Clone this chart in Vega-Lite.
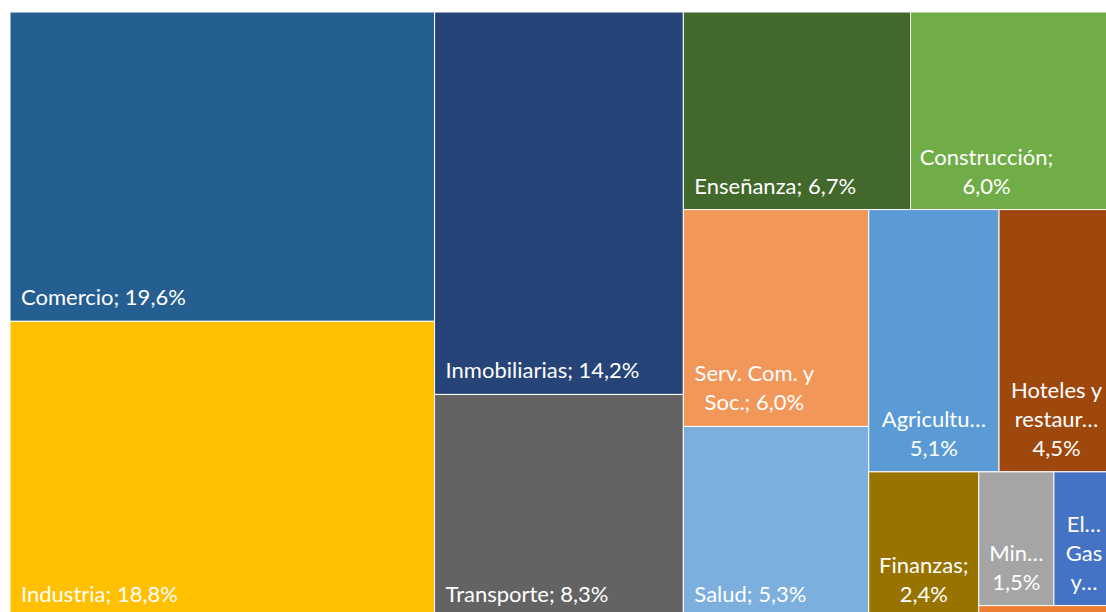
{
  "$schema": "https://vega.github.io/schema/vega-lite/v6.json",
  "width": 1096,
  "height": 600,
  "autosize": {"type": "none"},
  "padding": {"left": 10, "top": 12, "right": 0, "bottom": 0},
  "background": "white",
  "config": {"view": {"stroke": null}},
  "data": {
    "values": [
      {"sector": "Comercio", "value": 19.6, "ord": 1, "path": "R/A/Comercio", "label": "Comercio; 19,6%"},
      {"sector": "Industria", "value": 18.8, "ord": 2, "path": "R/A/Industria", "label": "Industria; 18,8%"},
      {"sector": "Inmobiliarias", "value": 14.2, "ord": 3, "path": "R/B/Inmobiliarias", "label": "Inmobiliarias; 14,2%"},
      {"sector": "Transporte", "value": 8.3, "ord": 4, "path": "R/B/Transporte", "label": "Transporte; 8,3%"},
      {"sector": "Enseñanza", "value": 6.7, "ord": 5, "path": "R/C/C1/Enseñanza", "label": "Enseñanza; 6,7%"},
      {"sector": "Construcción", "value": 6.0, "ord": 6, "path": "R/C/C1/Construcción", "label": "Construcción;\n6,0%"},
      {"sector": "Serv. Com. y Soc.", "value": 6.0, "ord": 7, "path": "R/C/C2/C2a/Serv. Com. y Soc.", "label": "Serv. Com. y\nSoc.; 6,0%"},
      {"sector": "Salud", "value": 5.3, "ord": 8, "path": "R/C/C2/C2a/Salud", "label": "Salud; 5,3%"},
      {"sector": "Agricultura", "value": 5.1, "ord": 9, "path": "R/C/C2/C2b/C2b1/Agricultura", "label": "Agricultu…\n5,1%"},
      {"sector": "Hoteles y restaurantes", "value": 4.5, "ord": 10, "path": "R/C/C2/C2b/C2b1/Hoteles y restaurantes", "label": "Hoteles y\nrestaur…\n4,5%"},
      {"sector": "Finanzas", "value": 2.4, "ord": 11, "path": "R/C/C2/C2b/C2b2/Finanzas", "label": "Finanzas;\n2,4%"},
      {"sector": "Minería", "value": 1.5, "ord": 12, "path": "R/C/C2/C2b/C2b2/E/E1/Minería", "label": "Min…\n1,5%"},
      {"sector": "Electricidad, Gas y Agua", "value": 1.2, "ord": 13, "path": "R/C/C2/C2b/C2b2/E/E1/Electricidad, Gas y Agua", "label": "El…\nGas\ny…"},
      {"sector": "Pesca", "value": 0.25, "ord": 14, "path": "R/C/C2/C2b/C2b2/E/Pesca", "label": ""}
    ]
  },
  "transform": [
    {"calculate": "split(datum.path, '/')", "as": "parts"},
    {"calculate": "split(datum.label, '\\n')", "as": "lines"},
    {"calculate": "length(datum.lines)", "as": "nlines"},
    {"calculate": "max(length(datum.lines[0]), length(datum.lines) > 1 ? length(datum.lines[1]) : 0, length(datum.lines) > 2 ? length(datum.lines[2]) : 0)", "as": "maxlen"},
    {"calculate": "datum.parts[0]", "as": "p0"},
    {"calculate": "datum.parts[min(1, length(datum.parts) - 1)]", "as": "p1"},
    {"calculate": "datum.parts[min(2, length(datum.parts) - 1)]", "as": "p2"},
    {"calculate": "datum.parts[min(3, length(datum.parts) - 1)]", "as": "p3"},
    {"calculate": "datum.parts[min(4, length(datum.parts) - 1)]", "as": "p4"},
    {"calculate": "datum.parts[min(5, length(datum.parts) - 1)]", "as": "p5"},
    {"calculate": "datum.parts[min(6, length(datum.parts) - 1)]", "as": "p6"},
    {"calculate": "datum.parts[min(7, length(datum.parts) - 1)]", "as": "p7"},

    {"joinaggregate": [{"op": "sum", "field": "value", "as": "s1"}], "groupby": ["p1"]},
    {"joinaggregate": [{"op": "sum", "field": "value", "as": "t1"}], "groupby": ["p0"]},
    {"window": [{"op": "sum", "field": "value", "as": "cp1"}], "groupby": ["p0"], "sort": [{"field": "ord", "order": "ascending"}], "frame": [null, 0]},
    {"window": [{"op": "sum", "field": "value", "as": "cn1"}], "groupby": ["p1"], "sort": [{"field": "ord", "order": "ascending"}], "frame": [null, 0]},

    {"joinaggregate": [{"op": "sum", "field": "value", "as": "s2"}], "groupby": ["p2"]},
    {"joinaggregate": [{"op": "sum", "field": "value", "as": "t2"}], "groupby": ["p1"]},
    {"window": [{"op": "sum", "field": "value", "as": "cp2"}], "groupby": ["p1"], "sort": [{"field": "ord", "order": "ascending"}], "frame": [null, 0]},
    {"window": [{"op": "sum", "field": "value", "as": "cn2"}], "groupby": ["p2"], "sort": [{"field": "ord", "order": "ascending"}], "frame": [null, 0]},

    {"joinaggregate": [{"op": "sum", "field": "value", "as": "s3"}], "groupby": ["p3"]},
    {"joinaggregate": [{"op": "sum", "field": "value", "as": "t3"}], "groupby": ["p2"]},
    {"window": [{"op": "sum", "field": "value", "as": "cp3"}], "groupby": ["p2"], "sort": [{"field": "ord", "order": "ascending"}], "frame": [null, 0]},
    {"window": [{"op": "sum", "field": "value", "as": "cn3"}], "groupby": ["p3"], "sort": [{"field": "ord", "order": "ascending"}], "frame": [null, 0]},

    {"joinaggregate": [{"op": "sum", "field": "value", "as": "s4"}], "groupby": ["p4"]},
    {"joinaggregate": [{"op": "sum", "field": "value", "as": "t4"}], "groupby": ["p3"]},
    {"window": [{"op": "sum", "field": "value", "as": "cp4"}], "groupby": ["p3"], "sort": [{"field": "ord", "order": "ascending"}], "frame": [null, 0]},
    {"window": [{"op": "sum", "field": "value", "as": "cn4"}], "groupby": ["p4"], "sort": [{"field": "ord", "order": "ascending"}], "frame": [null, 0]},

    {"joinaggregate": [{"op": "sum", "field": "value", "as": "s5"}], "groupby": ["p5"]},
    {"joinaggregate": [{"op": "sum", "field": "value", "as": "t5"}], "groupby": ["p4"]},
    {"window": [{"op": "sum", "field": "value", "as": "cp5"}], "groupby": ["p4"], "sort": [{"field": "ord", "order": "ascending"}], "frame": [null, 0]},
    {"window": [{"op": "sum", "field": "value", "as": "cn5"}], "groupby": ["p5"], "sort": [{"field": "ord", "order": "ascending"}], "frame": [null, 0]},

    {"joinaggregate": [{"op": "sum", "field": "value", "as": "s6"}], "groupby": ["p6"]},
    {"joinaggregate": [{"op": "sum", "field": "value", "as": "t6"}], "groupby": ["p5"]},
    {"window": [{"op": "sum", "field": "value", "as": "cp6"}], "groupby": ["p5"], "sort": [{"field": "ord", "order": "ascending"}], "frame": [null, 0]},
    {"window": [{"op": "sum", "field": "value", "as": "cn6"}], "groupby": ["p6"], "sort": [{"field": "ord", "order": "ascending"}], "frame": [null, 0]},

    {"joinaggregate": [{"op": "sum", "field": "value", "as": "s7"}], "groupby": ["p7"]},
    {"joinaggregate": [{"op": "sum", "field": "value", "as": "t7"}], "groupby": ["p6"]},
    {"window": [{"op": "sum", "field": "value", "as": "cp7"}], "groupby": ["p6"], "sort": [{"field": "ord", "order": "ascending"}], "frame": [null, 0]},
    {"window": [{"op": "sum", "field": "value", "as": "cn7"}], "groupby": ["p7"], "sort": [{"field": "ord", "order": "ascending"}], "frame": [null, 0]},

    {"calculate": "(datum.cp1 - datum.cn1) / datum.t1", "as": "X1"},
    {"calculate": "datum.s1 / datum.t1", "as": "W1"},
    {"calculate": "(datum.cp2 - datum.cn2) / datum.t2", "as": "Y2"},
    {"calculate": "datum.s2 / datum.t2", "as": "H2"},
    {"calculate": "datum.X1 + (datum.cp3 - datum.cn3) / datum.t3 * datum.W1", "as": "X3"},
    {"calculate": "datum.W1 * datum.s3 / datum.t3", "as": "W3"},
    {"calculate": "datum.Y2 + (datum.cp4 - datum.cn4) / datum.t4 * datum.H2", "as": "Y4"},
    {"calculate": "datum.H2 * datum.s4 / datum.t4", "as": "H4"},
    {"calculate": "datum.X3 + (datum.cp5 - datum.cn5) / datum.t5 * datum.W3", "as": "X5"},
    {"calculate": "datum.W3 * datum.s5 / datum.t5", "as": "W5"},
    {"calculate": "datum.Y4 + (datum.cp6 - datum.cn6) / datum.t6 * datum.H4", "as": "Y6"},
    {"calculate": "datum.H4 * datum.s6 / datum.t6", "as": "H6"},
    {"calculate": "datum.X5 + (datum.cp7 - datum.cn7) / datum.t7 * datum.W5", "as": "X7"},
    {"calculate": "datum.W5 * datum.s7 / datum.t7", "as": "W7"},
    {"calculate": "datum.X7 + datum.W7", "as": "xe"},
    {"calculate": "datum.Y6 + datum.H6", "as": "ye"},
    {"calculate": "datum.X7 + datum.W7 / 2", "as": "xc"},
    {"calculate": "length(split(datum.label, '…')) > 1 ? datum.xc : min(datum.xc, datum.X7 + (11 + datum.maxlen * 5) / 1104)", "as": "xl"}
  ],
  "layer": [
    {
      "mark": {"type": "rect", "stroke": "white", "strokeWidth": 1, "clip": true},
      "encoding": {
        "x": {"field": "X7", "type": "quantitative", "scale": {"domain": [0, 0.99275], "nice": false, "zero": false}, "axis": null},
        "x2": {"field": "xe"},
        "y": {"field": "Y6", "type": "quantitative", "scale": {"domain": [0, 0.9901], "nice": false, "zero": false, "reverse": true}, "axis": null},
        "y2": {"field": "ye"},
        "color": {
          "field": "sector",
          "type": "nominal",
          "legend": null,
          "scale": {
            "domain": ["Comercio", "Industria", "Inmobiliarias", "Transporte", "Enseñanza", "Construcción", "Serv. Com. y Soc.", "Salud", "Agricultura", "Hoteles y restaurantes", "Finanzas", "Minería", "Electricidad, Gas y Agua", "Pesca"],
            "range": ["#255E91", "#FFC000", "#264478", "#636363", "#43682B", "#70AD47", "#F1975A", "#7CAFDD", "#5B9BD5", "#9E480E", "#997300", "#A5A5A5", "#4472C4", "#ED7D31"]
          }
        }
      }
    },
    {
      "transform": [{"filter": "datum.label != '' && datum.nlines == 1"}],
      "mark": {"type": "text", "align": "left", "baseline": "bottom", "dx": 11, "dy": -11, "font": "Lato", "fontSize": 22, "color": "white", "clip": false},
      "encoding": {
        "x": {"field": "X7", "type": "quantitative"},
        "y": {"field": "ye", "type": "quantitative"},
        "text": {"field": "label", "type": "nominal"}
      }
    },
    {
      "transform": [{"filter": "datum.label != '' && datum.nlines == 2"}],
      "mark": {"type": "text", "align": "center", "baseline": "bottom", "dy": -40, "lineBreak": "\n", "lineHeight": 29, "font": "Lato", "fontSize": 22, "color": "white", "clip": false},
      "encoding": {
        "x": {"field": "xl", "type": "quantitative"},
        "y": {"field": "ye", "type": "quantitative"},
        "text": {"field": "label", "type": "nominal"}
      }
    },
    {
      "transform": [{"filter": "datum.label != '' && datum.nlines == 3"}],
      "mark": {"type": "text", "align": "center", "baseline": "bottom", "dy": -69, "lineBreak": "\n", "lineHeight": 29, "font": "Lato", "fontSize": 22, "color": "white", "clip": false},
      "encoding": {
        "x": {"field": "xl", "type": "quantitative"},
        "y": {"field": "ye", "type": "quantitative"},
        "text": {"field": "label", "type": "nominal"}
      }
    }
  ]
}
